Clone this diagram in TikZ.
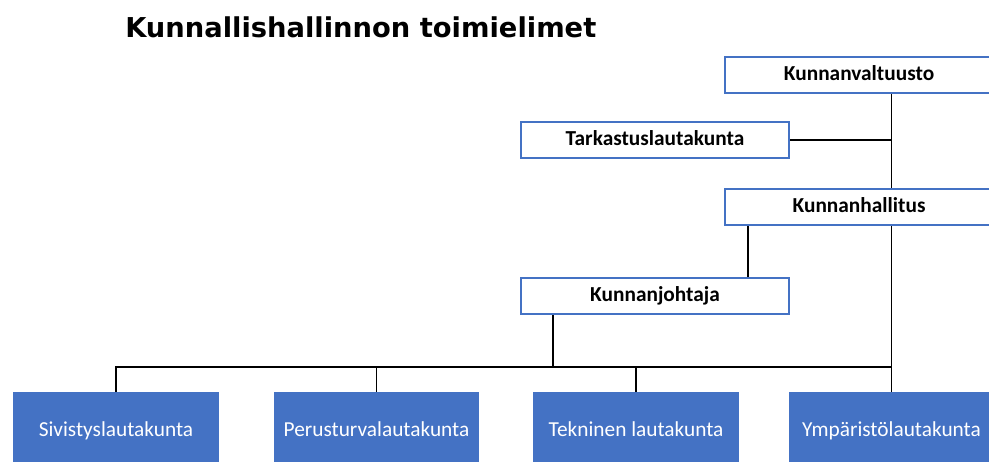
\documentclass[tikz,border=0pt]{standalone}
\usepackage{fontspec}
\setmainfont{Carlito}
\newfontfamily\titlefont{DejaVu Sans}
\usetikzlibrary{positioning}
\definecolor{officeblue}{HTML}{4472C4}

\begin{document}
\begin{tikzpicture}[
        x=0.75pt, y=-0.75pt,
        whitebox/.style={draw=officeblue, line width=1.6pt, fill=white,
          minimum width=201pt, minimum height=27.5pt, inner sep=0pt,
          text height=2.05ex, text depth=.35ex,
          font=\fontsize{16}{18}\selectfont\bfseries},
        bluebox/.style={fill=officeblue, text=white,
          minimum width=154pt, minimum height=60pt, inner sep=0pt,
          text height=1.75ex, text depth=.35ex,
          font=\fontsize{16}{18}\selectfont},
        link/.style={line width=1.2pt, black}
      ]

        % Frame -------------------------------------------------
        \useasboundingbox (0,0) rectangle (989,461);
        \clip (0,0) rectangle (989,461);

        % Title
        \node[anchor=base west, inner sep=0pt,
              font=\titlefont\fontsize{20.5}{24}\selectfont\bfseries]
              (title) at (125,37) {Kunnallishallinnon toimielimet};

        % Upper organs -------------------------------------------
        \node[whitebox] (valt)    at (859,75)  {Kunnanvaltuusto};
        \node[whitebox] (tark)    at (655,140) {Tarkastuslautakunta};
        \node[whitebox] (hall)    at (859,207) {Kunnanhallitus};
        \node[whitebox] (johtaja) at (655,296) {Kunnanjohtaja};

        % Committees ---------------------------------------------
        \node[bluebox] (siv) at (116,432)   {Sivistyslautakunta};
        \node[bluebox] (per) at (376.5,432) {Perusturvalautakunta};
        \node[bluebox] (tek) at (636,432)   {Tekninen lautakunta};
        \node[bluebox] (ymp) at (891.5,432) {Ympäristölautakunta};

        \coordinate (bus) at (0,367);

        % Connectors ---------------------------------------------
        \draw[link] (valt.south -| ymp.north) -- (hall.north -| ymp.north);
        \draw[link] (tark.east) -- (tark.east -| ymp.north);
        \draw[link] (hall.south -| ymp.north) -- (ymp.north);
        \draw[link] ([xshift=69.75pt]johtaja.north)
          -- ([xshift=69.75pt]johtaja.north |- hall.south);
        \draw[link] (siv.north) |- (bus -| ymp.north);
        \draw[link] ([xshift=-76.5pt]johtaja.south)
          -- ([xshift=-76.5pt]johtaja.south |- bus);
        \draw[link] (per.north) -- (per.north |- bus);
        \draw[link] (tek.north) -- (tek.north |- bus);

      \end{tikzpicture}
\end{document}
